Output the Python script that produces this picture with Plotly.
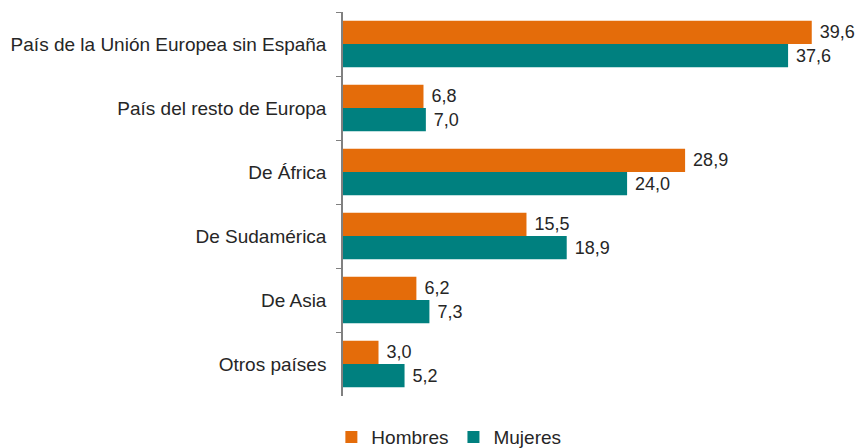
import plotly.graph_objects as go

categories = [
    "País de la Unión Europea sin España",
    "País del resto de Europa",
    "De África",
    "De Sudamérica",
    "De Asia",
    "Otros países",
]
hombres = [39.6, 6.8, 28.9, 15.5, 6.2, 3.0]
mujeres = [37.6, 7.0, 24.0, 18.9, 7.3, 5.2]

ORANGE = "#E46C0A"
TEAL = "#00807F"
TEXT = "#262626"
FS = 19

fig = go.Figure()
fig.add_trace(go.Bar(
    y=categories, x=hombres, name="Hombres", orientation="h",
    marker=dict(color=ORANGE, line=dict(width=0)),
    text=[f" {v:.1f}".replace(".", ",") for v in hombres],
    textposition="outside", textfont=dict(size=18, color=TEXT),
    constraintext="none", cliponaxis=False,
))
fig.add_trace(go.Bar(
    y=categories, x=mujeres, name="Mujeres", orientation="h",
    marker=dict(color=TEAL, line=dict(width=0)),
    text=[f" {v:.1f}".replace(".", ",") for v in mujeres],
    textposition="outside", textfont=dict(size=18, color=TEXT),
    constraintext="none", cliponaxis=False,
))

# page body has an 8px margin, so the figure is a little smaller than the window
fig.update_layout(
    width=855, height=440,
    margin=dict(l=335, r=11, t=4, b=52, autoexpand=False),
    paper_bgcolor="white", plot_bgcolor="white",
    font=dict(family="Liberation Sans, Arial, sans-serif", size=FS, color=TEXT),
    barmode="group", bargap=0.27, bargroupgap=0,
    showlegend=True,
    legend=dict(
        orientation="h", x=0.208, xanchor="center",
        y=-0.107, yanchor="middle",
        font=dict(size=FS, color=TEXT), itemwidth=30,
        traceorder="normal",
    ),
    xaxis=dict(range=[0, 43], visible=False, showgrid=False, zeroline=False),
    yaxis=dict(
        autorange="reversed", tickson="boundaries",
        ticks="outside", ticklen=5, tickcolor="#808080",
        showline=True, linecolor="#808080", linewidth=1.5,
        showgrid=False, ticklabelstandoff=11, automargin=False,
        tickfont=dict(size=FS, color=TEXT),
    ),
)

fig.write_html("out.html")
